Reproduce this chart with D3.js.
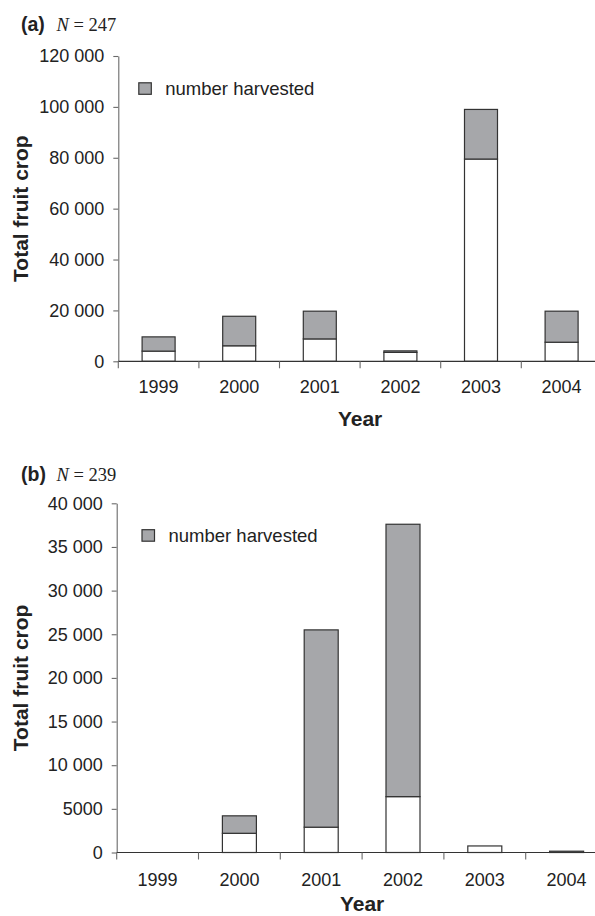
<!DOCTYPE html>
<html><head><meta charset="utf-8">
<script src="https://cdn.jsdelivr.net/npm/d3@7"></script>
<style>
html,body{margin:0;padding:0;background:#fff;overflow:hidden;}
svg{display:block;}
</style>
</head><body>
<svg id="chart" width="595" height="916"></svg>
<script>
// ---- data ----
const years = ["1999", "2000", "2001", "2002", "2003", "2004"];
// panel (a) N = 247
const aNotHarvested = [4000, 6100, 8800, 3500, 79500, 7500];
const aHarvested    = [5600, 11600, 10900, 600, 19500, 12200];
const aTicks = [0, 20000, 40000, 60000, 80000, 100000, 120000];
// panel (b) N = 239
const bNotHarvested = [0, 2200, 2900, 6400, 750, 0];
const bHarvested    = [0, 2000, 22600, 31200, 0, 150];
const bTicks = [0, 5000, 10000, 15000, 20000, 25000, 30000, 35000, 40000];

const legendLabel = "number harvested";
const yTitle = "Total fruit crop";
const xTitle = "Year";

const svg = d3.select("#chart");
const SANS = "'Liberation Sans', Arial, Helvetica, sans-serif";
const SERIF = "'Liberation Serif', 'Times New Roman', serif";
const GREY = "#a6a7aa";
const STROKE = "#333";

function fmt(v) {
  if (v < 10000) return String(v);
  const s = String(v);
  return s.slice(0, s.length - 3) + " " + s.slice(s.length - 3);
}

function panel(opt) {
  const g = svg.append("g");
  const x = d3.scaleBand().domain(years).range([opt.x0, opt.x0 + opt.band * years.length])
    .paddingInner(0).paddingOuter(0);
  const y = d3.scaleLinear().domain([0, opt.max]).range([opt.yBottom, opt.yTop]);

  // panel label
  g.append("text").attr("x", 21).attr("y", opt.labelY)
    .style("font-family", SANS).style("font-size", "19.5px").style("font-weight", "bold")
    .style("fill", "#222").text(opt.letter);
  g.append("text").attr("x", 56.5).attr("y", opt.labelY)
    .style("font-family", SERIF).style("font-size", "18.5px").style("fill", "#222")
    .html("<tspan font-style='italic'>N</tspan> = " + opt.n);

  // y axis
  const ya = d3.axisLeft(y).tickValues(opt.ticks).tickFormat(fmt)
    .tickSize(5).tickSizeOuter(0).tickPadding(9);
  const yg = g.append("g").attr("transform", `translate(${opt.x0},0)`).call(ya);
  yg.select(".domain").attr("stroke", "#6a6a6a").attr("stroke-width", 1.1);
  yg.selectAll(".tick line").attr("stroke", "#6a6a6a").attr("stroke-width", 1.1);
  yg.selectAll(".tick text").style("font-family", SANS).style("font-size", "18px")
    .style("fill", "#222");

  // bars
  const w = opt.barW;
  const data = years.map((yr, i) => ({yr, lo: opt.notH[i], hi: opt.harv[i]}));
  data.forEach(d => {
    const cx = x(d.yr) + x.bandwidth() / 2;
    if (d.lo > 0) {
      g.append("rect").attr("x", cx - w / 2).attr("width", w)
        .attr("y", y(d.lo)).attr("height", y(0) - y(d.lo))
        .attr("fill", "#fff").attr("stroke", STROKE).attr("stroke-width", 1.2);
    }
    if (d.hi > 0) {
      g.append("rect").attr("x", cx - w / 2).attr("width", w)
        .attr("y", y(d.lo + d.hi)).attr("height", y(d.lo) - y(d.lo + d.hi))
        .attr("fill", GREY).attr("stroke", STROKE).attr("stroke-width", 1.2);
    }
  });

  // x axis line and boundary ticks
  const xEnd = opt.x0 + opt.band * years.length;
  g.append("line").attr("x1", opt.x0).attr("x2", xEnd)
    .attr("y1", y(0)).attr("y2", y(0)).attr("stroke", "#333").attr("stroke-width", 1.2);
  d3.range(years.length + 1).forEach(i => {
    const tx = opt.x0 + i * opt.band;
    g.append("line").attr("x1", tx).attr("x2", tx).attr("y1", y(0)).attr("y2", y(0) + 7)
      .attr("stroke", "#6a6a6a").attr("stroke-width", 1.1);
  });
  years.forEach(yr => {
    g.append("text").attr("x", x(yr) + x.bandwidth() / 2).attr("y", y(0) + opt.labOff)
      .attr("text-anchor", "middle").style("font-family", SANS).style("font-size", "18px")
      .style("fill", "#222").text(yr);
  });

  // axis titles
  g.append("text").attr("x", opt.x0 + opt.band * 3).attr("y", y(0) + opt.titleOff)
    .attr("text-anchor", "middle").style("font-family", SANS).style("font-size", "21px")
    .style("font-weight", "bold").style("fill", "#222").text(xTitle);
  g.append("text").attr("transform", `translate(28,${(opt.yTop + opt.yBottom) / 2}) rotate(-90)`)
    .attr("text-anchor", "middle").style("font-family", SANS).style("font-size", "21px")
    .style("font-weight", "bold").style("fill", "#222").text(yTitle);

  // legend
  g.append("rect").attr("x", opt.legX).attr("y", opt.legY).attr("width", 12.5).attr("height", 11.5)
    .attr("fill", GREY).attr("stroke", STROKE).attr("stroke-width", 1.2);
  g.append("text").attr("x", opt.legX + 26.5).attr("y", opt.legY + 6)
    .attr("dy", "0.35em").style("font-family", SANS).style("font-size", "18.5px")
    .style("fill", "#222").text(legendLabel);
}

panel({letter: "(a)", n: "247", labelY: 31, x0: 118.3, band: 80.6, yTop: 56, yBottom: 361.3,
  max: 120000, ticks: aTicks, notH: aNotHarvested, harv: aHarvested, barW: 33,
  labOff: 32, titleOff: 64.5, legX: 138.8, legY: 82.8});
panel({letter: "(b)", n: "239", labelY: 481, x0: 116.7, band: 81.8, yTop: 503.3, yBottom: 852.5,
  max: 40000, ticks: bTicks, notH: bNotHarvested, harv: bHarvested, barW: 34,
  labOff: 33, titleOff: 58.5, legX: 142, legY: 529.7});
</script>
</body></html>
